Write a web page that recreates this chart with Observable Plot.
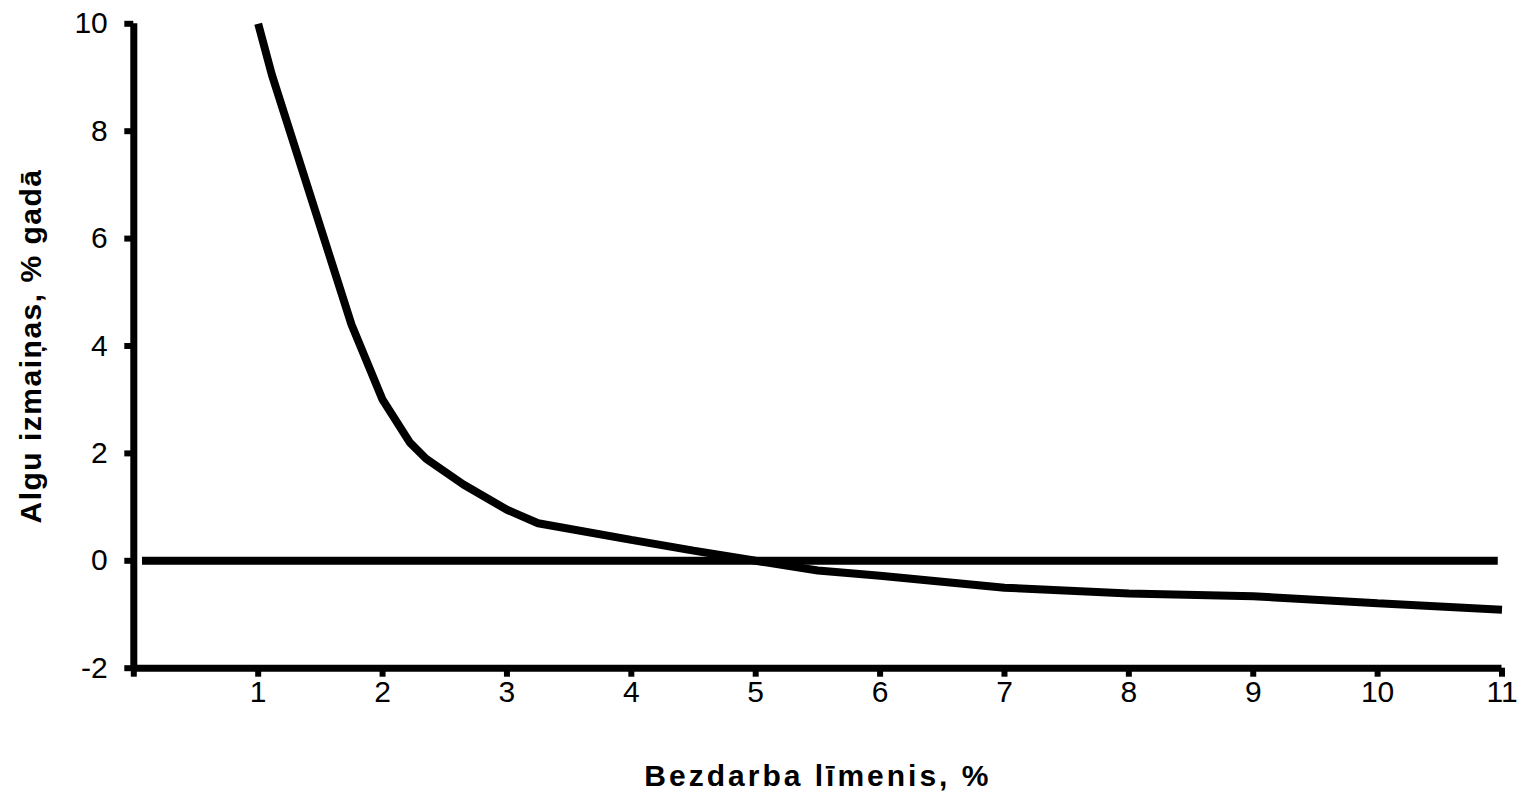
<!DOCTYPE html>
<html>
<head>
<meta charset="utf-8">
<script src="https://cdn.jsdelivr.net/npm/d3@7"></script>
<script src="https://cdn.jsdelivr.net/npm/@observablehq/plot@0.6"></script>
<style>
  html, body { margin: 0; padding: 0; background: #fff; }
  #chart svg { display: block; }
</style>
</head>
<body>
<div id="chart"></div>
<script>
// Unemployment rate, % (x) and wage change, % per year (y)
const unemployment = [1, 1.11, 1.75, 2, 2.22, 2.35, 2.65, 3, 3.25, 4, 4.5, 5, 5.5, 6, 7, 8, 9, 10, 11];
const wageChange   = [10, 9.05, 4.4, 3.0, 2.2, 1.9, 1.42, 0.95, 0.7, 0.39, 0.19, 0, -0.18, -0.28, -0.5, -0.61, -0.66, -0.79, -0.91];

// Zero reference line
const zeroStart = [0.07];
const zeroEnd = [10.97];
const zeroValue = [0];

// Ticks
const xTicks = [0, 1, 2, 3, 4, 5, 6, 7, 8, 9, 10, 11];
const yTicks = [-2, 0, 2, 4, 6, 8, 10];

const xTitle = "Bezdarba līmenis, %";
const yTitle = "Algu izmaiņas, % gadā";

const curve = unemployment.map((x, i) => ({x, y: wageChange[i]}));
const zero = zeroValue.map((y, i) => ({x1: zeroStart[i], x2: zeroEnd[i], y}));

const chart = Plot.plot({
  width: 1521,
  height: 796,
  marginLeft: 133.3,
  marginRight: 19.5,
  marginTop: 23.3,
  marginBottom: 128.3,
  style: {
    fontFamily: "'Liberation Sans', Arial, sans-serif",
    fontSize: "30px",
    color: "#000",
    background: "#fff"
  },
  x: {domain: [0, 11]},
  y: {domain: [-2, 10]},
  marks: [
    Plot.axisX(xTicks, {
      tickSize: 9, strokeWidth: 6, tickPadding: 3,
      tickFormat: d => d === 0 ? "" : String(d),
      fontSize: 30, label: null
    }),
    Plot.axisY(yTicks, {
      tickSize: 9, strokeWidth: 6, tickPadding: 17,
      tickFormat: d => String(d),
      fontSize: 30, label: null
    }),
    Plot.ruleY([-2], {stroke: "#000", strokeWidth: 7}),
    Plot.ruleX([0], {stroke: "#000", strokeWidth: 7}),
    Plot.ruleY(zero, {x1: "x1", x2: "x2", y: "y", stroke: "#000", strokeWidth: 8}),
    Plot.line(curve, {
      x: "x", y: "y", stroke: "#000", strokeWidth: 8,
      strokeLinejoin: "miter", strokeLinecap: "butt"
    }),
    Plot.text([xTitle], {
      text: d => d, frameAnchor: "bottom", lineAnchor: "bottom", dy: 118,
      textAnchor: "middle",
      fontWeight: "bold", fontSize: 30, fill: "#000", className: "xtitle"
    }),
    Plot.text([yTitle], {
      text: d => d, frameAnchor: "left", rotate: -90, dx: -102,
      textAnchor: "middle", lineAnchor: "middle",
      fontWeight: "bold", fontSize: 30, fill: "#000", className: "ytitle"
    })
  ]
});

chart.querySelectorAll(".xtitle text").forEach(t => { t.style.letterSpacing = "3px"; });
chart.querySelectorAll(".ytitle text").forEach(t => { t.style.letterSpacing = "1.5px"; });

document.getElementById("chart").appendChild(chart);
</script>
</body>
</html>
